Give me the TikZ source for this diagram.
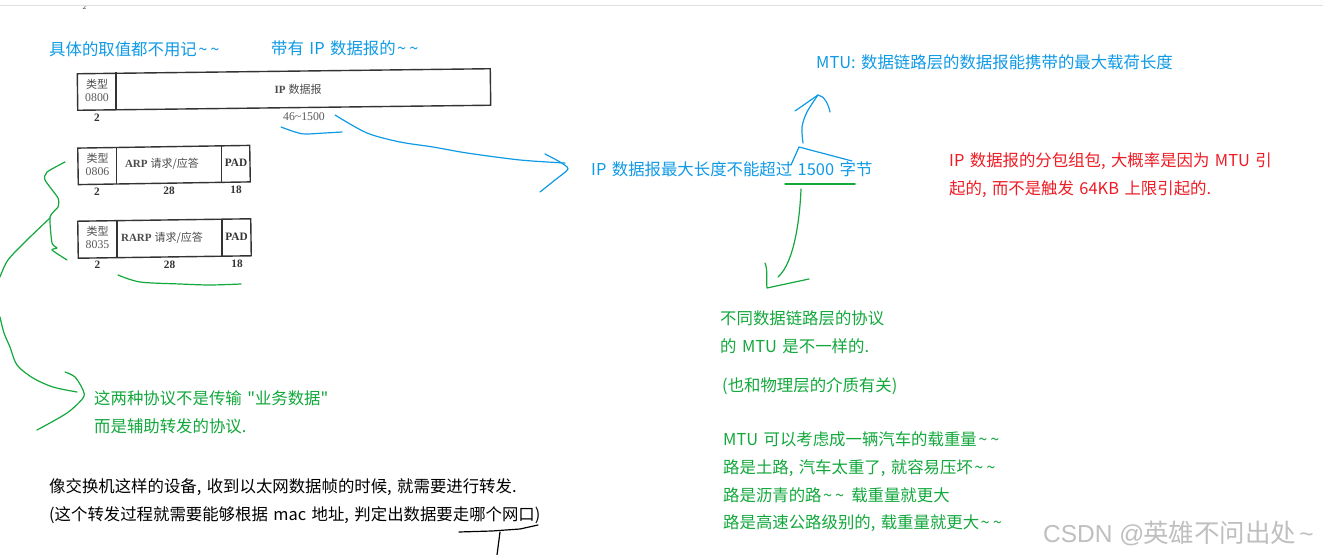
\documentclass[tikz,border=0pt]{standalone}
\usepackage{fontspec}
\newfontfamily\cnfont{Noto Sans CJK SC}
\newfontfamily\notefont[WordSpace=1.22]{Noto Sans CJK SC}
\newfontfamily\scanfont{Liberation Serif}
\newfontfamily\wmfont{Liberation Sans}
\setmainfont{Noto Sans CJK SC}
\newcommand{\tl}{\kern1.5bp{\cnfont\symbol{126}}\kern1.5bp}
\newcommand{\sq}{{\cnfont\symbol{34}}}
\definecolor{blueink}{HTML}{0F9AE6}
\definecolor{greenink}{HTML}{12A83C}
\definecolor{redink}{HTML}{EE1C25}
\definecolor{frameink}{HTML}{333333}
\tikzset{
  note/.style={anchor=west,inner sep=0pt,font=\notefont\fontsize{16.4bp}{27.6bp}\selectfont,align=left},
  bluenote/.style={note,text=blueink},
  greennote/.style={note,text=greenink},
  rednote/.style={note,text=redink},
  blacknote/.style={note,text=black},
  frame/.style={draw=frameink,line width=1.4bp,inner sep=0pt},
  divider/.style={draw=frameink,line width=1.3bp},
  scan/.style={inner sep=0pt,text=black!80,font=\scanfont\bfseries\fontsize{11.3bp}{12bp}\selectfont,align=center},
  scanthin/.style={inner sep=0pt,text=black!65,font=\scanfont\fontsize{11.8bp}{12bp}\selectfont,align=center},
  scancjk/.style={inner sep=0pt,text=black!70,font=\cnfont\fontsize{11bp}{12bp}\selectfont,align=center},
  ink/.style={line width=1.2bp,line cap=round,line join=round},
  blueline/.style={ink,draw=blueink},
  greenline/.style={ink,draw=greenink},
  blackline/.style={ink,draw=black},
}
\begin{document}
\begin{tikzpicture}[x=1bp,y=-1bp]
\useasboundingbox (0,0) rectangle (1323,555);
\fill[white] (0,0) rectangle (1323,555);
\node[inner sep=0pt,font=\fontsize{7bp}{7bp}\selectfont,text=black!70] (topmark) at (84.5,6.5) {2};
\fill[white] (0,0) rectangle (1323,5);
\draw[black!12,line width=0.8bp] (0,5.5) -- (1323,5.5);

% --- notes
\node[bluenote] (n1) at (49,49) {具体的取值都不用记\tl\tl};
\node[bluenote] (n2) at (271,48) {带有 IP 数据报的\tl\tl};
\node[bluenote] (n3) at (816,62) {MTU: 数据链路层的数据报能携带的最大载荷长度};
\node[bluenote] (n4) at (591,169) {IP 数据报最大长度不能超过 1500 字节};
\node[rednote] (n5) at (949,175) {IP 数据报的分包组包, 大概率是因为 MTU 引\\起的, 而不是触发 64KB 上限引起的.};
\node[greennote] (n6) at (720,332) {不同数据链路层的协议\\的 MTU 是不一样的.};
\node[greennote] (n7) at (722,386) {(也和物理层的介质有关)};
\node[greennote] (n8) at (723,482) {MTU 可以考虑成一辆汽车的载重量\tl\tl\\路是土路, 汽车太重了, 就容易压坏\tl\tl\\路是沥青的路\tl\tl{} 载重量就更大\\路是高速公路级别的, 载重量就更大\tl\tl};
\node[greennote] (n9) at (94,412) {这两种协议不是传输 \sq 业务数据\sq\\而是辅助转发的协议.};
\node[blacknote] (n10) at (49,501) {像交换机这样的设备, 收到以太网数据帧的时候, 就需要进行转发.\\(这个转发过程就需要能够根据 mac 地址, 判定出数据要走哪个网口)};
\node[anchor=west,inner sep=0pt,text=black!25,font=\cnfont\fontsize{25.5bp}{26bp}\selectfont] (wm) at (1043,533) {{\wmfont\fontsize{24.5bp}{26bp}\selectfont CSDN @}\kern-1bp 英雄不问出处\kern3bp{\wmfont\fontsize{24.5bp}{26bp}\selectfont\symbol{126}}};

% --- frames
\node[frame,rotate=0.7,minimum width=413bp,minimum height=36.5bp] (b1) at (284,89.5) {};
\draw[divider] (116,72.5) -- (116,110);
\node[scancjk] (t1a) at (97,84) {类型};
\node[scanthin] (t1b) at (97,98) {0800};
\node[scancjk] (b1t) at (298,89) {{\scanfont\bfseries IP} 数据报};
\node[scan] (l1a) at (97,118) {2};
\node[scanthin] (l1b) at (304,117) {46\textasciitilde1500};

\node[frame,rotate=0.9,minimum width=172bp,minimum height=36.5bp] (b2) at (164,165) {};
\draw[divider] (116.5,147) -- (116.5,184);
\draw[divider] (221.5,146) -- (221.5,183);
\node[scancjk] (t2a) at (97.5,158) {类型};
\node[scanthin] (t2b) at (97.5,172) {0806};
\node[scancjk] (b2t) at (162,164) {{\scanfont\bfseries ARP} 请求/应答};
\node[scan] (p2t) at (236,163) {PAD};
\node[scan] (l2a) at (97,191.5) {2};
\node[scan] (l2b) at (169,190.5) {28};
\node[scan] (l2c) at (236,190) {18};

\node[frame,rotate=0.8,minimum width=173bp,minimum height=37bp] (b3) at (164.5,238.5) {};
\draw[divider] (117,220) -- (117,257.5);
\draw[divider] (222,219) -- (222,256.5);
\node[scancjk] (t3a) at (97.5,231) {类型};
\node[scanthin] (t3b) at (97.5,245) {8035};
\node[scancjk] (b3t) at (162,238) {{\scanfont\bfseries RARP} 请求/应答};
\node[scan] (p3t) at (236.5,236.5) {PAD};
\node[scan] (l3a) at (97.5,265) {2};
\node[scan] (l3b) at (169.5,264.5) {28};
\node[scan] (l3c) at (237,264) {18};

% --- blue strokes
\draw[blueline] plot[smooth] coordinates {(281,127) (295,132) (305,134) (325,133) (342,132)};
\draw[blueline] plot[smooth] coordinates {(335,115) (367,133) (400,142) (433,147) (467,153) (520,160) (565,163)};
\draw[blueline] plot[smooth,tension=0.4] coordinates {(545,154) (560,162) (568,169) (555,180) (540,192)};
\draw[blueline] plot[smooth] coordinates {(803,143) (802,127) (807,112) (818,95)};
\draw[blueline] (795,111) -- (818,95) .. controls (824,96) and (828,103) .. (830,112);
\draw[blueline] (791,165) -- (799,147) -- (852,161);
% --- green strokes
\draw[greenline,line width=1.5bp] (785,184) -- (855,184);
\draw[greenline] (801,189) .. controls (800,215) and (795,262) .. (778,277);
\draw[greenline] (765,263) .. controls (768,270) and (766,280) .. (767,288) -- (809,279);
\draw[greenline] plot[smooth] coordinates {(118,275) (140,282) (180,284) (210,285) (241,284)};
\draw[greenline] plot[smooth,tension=0.35] coordinates {(65,162) (47,172) (45,180) (58,198) (58,207) (50,217) (52,243) (57,248) (52,250) (67,260)};
\draw[greenline] plot[smooth] coordinates {(50,218) (27,240) (8,260) (0,277)};
\draw[greenline] plot[smooth] coordinates {(0,317) (4,333) (10,347) (17,365) (33,378) (53,387) (77,392)};
\draw[greenline] plot[smooth,tension=0.5] coordinates {(65,372) (75,377) (83,390) (83,398) (67,413) (37,430)};
% --- black strokes
\draw[blackline] (459,532) -- (492,531) -- (520,529) -- (538,525);
\draw[blackline] (500,532) -- (497,555);
\end{tikzpicture}
\end{document}
